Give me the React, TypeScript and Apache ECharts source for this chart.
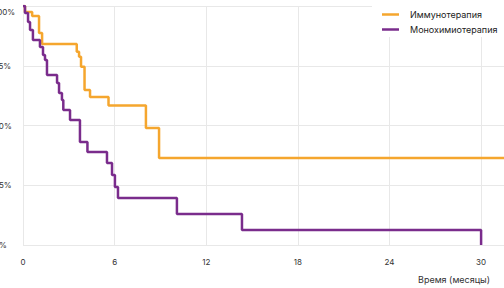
import React, { useEffect, useRef } from "react";
import * as echarts from "echarts";

const seriesNames = ["Иммунотерапия", "Монохимиотерапия"];
const immunoTimes = [0, 0.13, 0.6, 1.05, 1.25, 3.52, 3.67, 3.8, 4.03, 4.39, 5.6, 8.05, 8.91, 31.5];
const immunoSurvival = [100, 97.5, 95.8, 88.7, 84.1, 80.9, 78.8, 74.6, 64.9, 61.9, 58.4, 49.0, 36.4, 36.4];
const chemoTimes = [0, 0.13, 0.33, 0.46, 0.65, 1.11, 1.31, 1.44, 1.57, 2.23, 2.36, 2.55, 2.64, 3.08, 3.73, 4.22, 5.5, 5.83, 6.02, 6.22, 10.08, 14.34, 30];
const chemoSurvival = [100, 97.1, 93.3, 90.0, 85.8, 82.8, 79.5, 77.4, 71.1, 67.8, 63.6, 60.7, 56.5, 52.3, 43.1, 38.9, 34.3, 29.3, 24.3, 19.7, 13.0, 6.3, 0];
const xTicks = [0, 6, 12, 18, 24, 30];
const yTicks = [0, 25, 50, 75, 100];
const xAxisTitle = "Время (месяцы)";
const colors = ["#F5A62E", "#7A2C8C"];

const FONT = "Inter, 'Noto Sans', sans-serif";

export default function App() {
  const ref = useRef<HTMLDivElement>(null);
  useEffect(() => {
    document.body.style.margin = "0";
    if (!ref.current) return;
    const chart = echarts.init(ref.current, null, { renderer: "svg" });
    const pair = (ts: number[], ss: number[]) => ts.map((t, i) => [t, ss[i]]);
    chart.setOption({
      animation: false,
      textStyle: { fontFamily: FONT },
      grid: {
        left: 23,
        right: 0,
        top: 6,
        bottom: 43,
        containLabel: false,
        outerBoundsMode: "none",
      },
      xAxis: {
        type: "value",
        min: 0,
        max: 31.5,
        interval: 6,
        axisLine: { show: false },
        axisTick: { show: false },
        splitLine: { show: true, lineStyle: { color: "#e8e8e8", width: 1 } },
        axisLabel: {
          fontSize: 8,
          color: "#333",
          margin: 13,
          fontFamily: FONT,
          formatter: (v: number) => (xTicks.includes(v) ? String(v) : ""),
        },
        name: xAxisTitle,
        nameLocation: "end",
        nameGap: -14,
        nameTextStyle: {
          fontSize: 9,
          color: "#333",
          fontFamily: FONT,
          align: "right",
          verticalAlign: "top",
          padding: [30, 0, 0, 0],
        },
      },
      yAxis: {
        type: "value",
        min: 0,
        max: 100,
        interval: 25,
        axisLine: { show: false },
        axisTick: { show: false },
        splitLine: { show: true, lineStyle: { color: "#e8e8e8", width: 1 } },
        axisLabel: {
          fontSize: 8,
          color: "#333",
          align: "left",
          margin: 29,
          fontFamily: FONT,
          formatter: (v: number) =>
            yTicks.includes(v) ? (v === 100 ? "{top|" + v + "%}" : v + "%") : "",
          rich: { top: { fontSize: 8, color: "#333", padding: [11, 0, 0, 0], fontFamily: FONT } },
        },
      },
      legend: {
        orient: "vertical",
        left: 372,
        top: 0,
        backgroundColor: "#ffffff",
        padding: [10, 40, 3, 10],
        itemGap: 6,
        itemWidth: 17,
        itemHeight: 2.5,
        icon: "rect",
        textStyle: { fontSize: 9, color: "#222", fontFamily: FONT, padding: [0, 0, 0, 6] },
        data: seriesNames,
      },
      series: [
        {
          name: seriesNames[0],
          type: "line",
          step: "end",
          showSymbol: false,
          symbol: "none",
          lineStyle: { color: colors[0], width: 2.5 },
          itemStyle: { color: colors[0] },
          data: pair(immunoTimes, immunoSurvival),
          z: 2,
        },
        {
          name: seriesNames[1],
          type: "line",
          step: "end",
          showSymbol: false,
          symbol: "none",
          lineStyle: { color: colors[1], width: 2.5 },
          itemStyle: { color: colors[1] },
          data: pair(chemoTimes, chemoSurvival),
          z: 3,
        },
      ],
    });
    return () => chart.dispose();
  }, []);
  return (
    <div
      ref={ref}
      style={{ position: "absolute", left: 0, top: 0, width: 504, height: 288 }}
    />
  );
}
